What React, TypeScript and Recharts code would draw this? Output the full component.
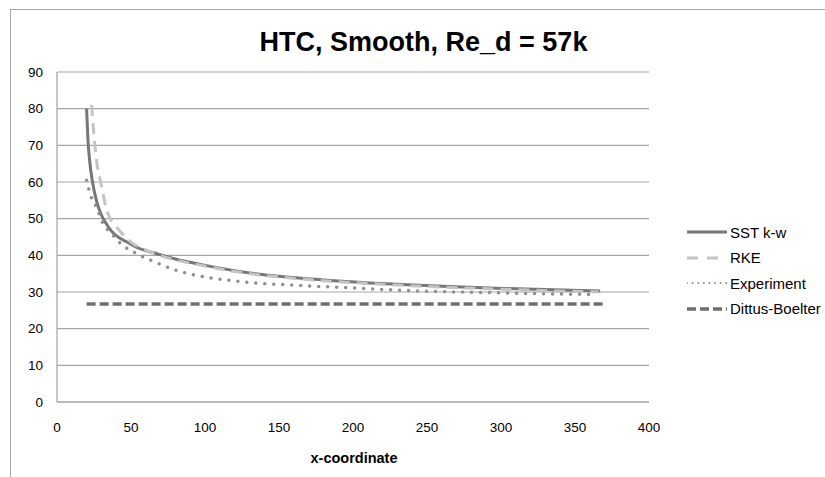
import { LineChart, Line, XAxis, YAxis, CartesianGrid } from 'recharts'

const FONT = '"Liberation Sans", Arial, sans-serif'

// x positions and HTC values
const sstX = [20, 21, 22, 24, 26.6, 30, 33, 37, 42, 47, 55, 67, 80, 96, 120, 150, 180, 230, 297, 367]
const sstY = [80, 71, 66, 60, 55, 51, 48.8, 46.5, 44.8, 43.7, 42, 40.5, 39, 37.6, 35.8, 34.3, 33.3, 32.1, 31.0, 30.3]

const rkeX = [23.4, 24.5, 25.5, 27, 29, 31, 33, 36, 40, 45, 52, 60, 75, 96, 120, 150, 180, 230, 297, 366]
const rkeY = [81, 75, 70.5, 65, 61, 57, 53.2, 50, 47.8, 45.5, 43, 41.5, 39.3, 37.4, 35.6, 34.1, 33.1, 31.9, 30.8, 30.0]

const expX = [20, 23, 26.6, 31, 36.7, 43, 53.5, 66, 80, 93, 110, 130, 163, 200, 230, 260, 297, 330, 364]
const expY = [60.5, 56, 53.2, 48.7, 46, 43.2, 40.5, 38.2, 36, 34.6, 33.5, 32.6, 31.8, 31.1, 30.5, 30.1, 29.8, 29.5, 29.3]

const dbX = [20, 370]
const dbY = [26.7, 26.7]

const xTicks = [0, 50, 100, 150, 200, 250, 300, 350, 400]
const yTicks = [0, 10, 20, 30, 40, 50, 60, 70, 80, 90]

const toPoints = (xs: number[], ys: number[]) => xs.map((x, i) => ({ x, y: ys[i] }))

const series = [
  { name: 'SST k-w', data: toPoints(sstX, sstY), stroke: '#777777', width: 3, dash: undefined, cap: 'butt', legendDash: undefined, legendWidth: 3 },
  { name: 'RKE', data: toPoints(rkeX, rkeY), stroke: '#c4c4c4', width: 3, dash: '11 7', cap: 'butt', legendDash: '11 9', legendWidth: 3 },
  { name: 'Experiment', data: toPoints(expX, expY), stroke: '#8e8e8e', width: 3.5, dash: '0 9', cap: 'round', legendDash: '0 5.6', legendWidth: 2 },
  { name: 'Dittus-Boelter', data: toPoints(dbX, dbY), stroke: '#6f6f6f', width: 3.5, dash: '9 4', cap: 'butt', legendDash: '9 4', legendWidth: 3.5 },
]

export default function App() {
  return (
    <div style={{ position: 'absolute', left: 0, top: 0, width: 825, height: 477, background: '#fff', overflow: 'hidden', fontFamily: FONT }}>
      <div style={{ position: 'absolute', left: 10, top: 9, width: 900, height: 600, borderLeft: '1.5px solid #a6a6a6', borderTop: '1.5px solid #a6a6a6' }} />
      <div style={{ position: 'absolute', left: 0, width: 847, top: 29, textAlign: 'center', fontSize: 27, fontWeight: 'bold', lineHeight: 1, color: '#000' }}>
        HTC, Smooth, Re_d = 57k
      </div>
      <div style={{ position: 'absolute', left: 0, width: 708, top: 450.7, textAlign: 'center', fontSize: 14.5, fontWeight: 'bold', lineHeight: 1, color: '#000' }}>
        x-coordinate
      </div>
      <div style={{ position: 'absolute', left: 0, top: 0 }}>
        <LineChart width={825} height={477} margin={{ top: 72, right: 176, bottom: 45, left: 12 }}>
          <CartesianGrid vertical={false} stroke="#a6a6a6" strokeWidth={1.2} />
          <XAxis
            dataKey="x"
            type="number"
            domain={[0, 400]}
            ticks={xTicks}
            allowDataOverflow
            height={30}
            tickLine={false}
            tickSize={0}
            tickMargin={20}
            axisLine={{ stroke: '#a0a0a0', strokeWidth: 1.2 }}
            tick={{ fontSize: 13.5, fill: '#000', fontFamily: FONT }}
          />
          <YAxis
            type="number"
            domain={[0, 90]}
            ticks={yTicks}
            width={45}
            tickLine={false}
            tickSize={0}
            tickMargin={14}
            axisLine={{ stroke: '#a0a0a0', strokeWidth: 1.2 }}
            tick={{ fontSize: 13.5, fill: '#000', fontFamily: FONT }}
          />
          {series.map(s => (
            <Line
              key={s.name}
              data={s.data}
              dataKey="y"
              name={s.name}
              type="monotone"
              stroke={s.stroke}
              strokeWidth={s.width}
              strokeDasharray={s.dash}
              strokeLinecap={s.cap as 'butt' | 'round'}
              dot={false}
              activeDot={false}
              isAnimationActive={false}
            />
          ))}
        </LineChart>
      </div>
      <div style={{ position: 'absolute', left: 687, top: 219.25 }}>
        {series.map(s => (
          <div key={s.name} style={{ display: 'flex', alignItems: 'center', height: 25.5 }}>
            <svg width={40} height={8} style={{ display: 'block' }}>
              <line x1={0} y1={4} x2={40} y2={4} stroke={s.stroke} strokeWidth={s.legendWidth}
                strokeDasharray={s.legendDash} strokeLinecap={s.cap as 'butt' | 'round'} />
            </svg>
            <span style={{ marginLeft: 3, fontSize: 15, lineHeight: 1, color: '#000', whiteSpace: 'nowrap' }}>{s.name}</span>
          </div>
        ))}
      </div>
    </div>
  )
}
